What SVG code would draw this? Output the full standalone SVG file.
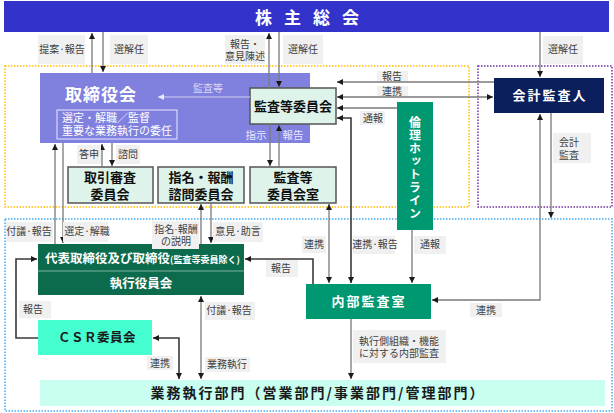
<svg xmlns="http://www.w3.org/2000/svg" width="614" height="413" viewBox="0 0 614 413">
<defs>
<style>
text{font-family:"Noto Sans CJK JP","Noto Sans",sans-serif}
text.ml{font-family:"Liberation Sans","Noto Sans CJK JP",sans-serif}
.lb{fill:#F0F0F0}
.lt{font-size:10px;fill:#404040;text-anchor:middle}
.ln{fill:none;stroke:#7a7a7a;stroke-width:1.3}
.dk{fill:none;stroke:#3a3a3a;stroke-width:1.6}
.mint{fill:#DEF3EA;stroke:#555;stroke-width:1.5}
.bt{font-size:13px;font-weight:bold;fill:#111;text-anchor:middle}
.wt{font-weight:bold;fill:#fff;text-anchor:middle}
</style>
<marker id="a" markerUnits="userSpaceOnUse" markerWidth="7" markerHeight="6" refX="6" refY="3" orient="auto-start-reverse"><path d="M0,0 L6,3 L0,6 z" fill="#1a1a1a"/></marker>
<marker id="w" markerUnits="userSpaceOnUse" markerWidth="7" markerHeight="6" refX="6" refY="3" orient="auto-start-reverse"><path d="M0,0 L6,3 L0,6 z" fill="#E8E8FF"/></marker>
</defs>

<!-- dotted areas -->
<rect x="5" y="66" width="464" height="141" fill="none" stroke="#FFC000" stroke-width="1.5" stroke-dasharray="1.5 1.5"/>
<rect x="478" y="66" width="134" height="141" fill="none" stroke="#7030A0" stroke-width="1.5" stroke-dasharray="1.5 1.5"/>
<rect x="5" y="219" width="607" height="192" fill="none" stroke="#3FA9F5" stroke-width="1.5" stroke-dasharray="1.5 1.5"/>

<g id="shareholders">
<rect x="4" y="1" width="605" height="31" fill="#3333CC"/>
<text x="255" y="24" font-size="17" font-weight="bold" fill="#fff" letter-spacing="12">株主総会</text>
</g>

<g id="board">
<rect x="40" y="73" width="270" height="70" fill="#8080DF"/>
<text x="101" y="101" class="wt" font-size="17" letter-spacing="1">取締役会</text>
<rect x="57" y="110" width="120" height="29" fill="none" stroke="#E8E8FF" stroke-width="1"/>
<text class="ml" font-size="11" fill="#fff"><tspan x="62" y="122">選定・解職／監督</tspan><tspan x="62" y="135">重要な業務執行の委任</tspan></text>
<text x="208" y="92" font-size="10" fill="#D8D8F8" text-anchor="middle">監査等</text>
<text x="256" y="139" font-size="10.5" fill="#E8E8FF" text-anchor="middle">指示</text>
<text x="293" y="139" font-size="10.5" fill="#E8E8FF" text-anchor="middle">報告</text>
</g>

<g id="audit-committee">
<rect x="250" y="88" width="86" height="36" class="mint"/>
<text x="293" y="111" class="bt">監査等委員会</text>
</g>

<g id="accounting-auditor">
<rect x="494" y="78" width="110" height="35" fill="#0A1F5C"/>
<text x="550" y="100" class="wt" font-size="13" letter-spacing="2">会計監査人</text>
</g>

<g id="hotline">
<rect x="397" y="102" width="36" height="128" fill="#009870"/>
<text x="415" y="116" font-size="12" font-weight="bold" fill="#fff" writing-mode="tb" letter-spacing="1">倫理ホットライン</text>
</g>

<g id="transaction-committee">
<rect x="68" y="167" width="85" height="36" class="mint"/>
<text class="bt ml"><tspan x="110" y="182">取引審査</tspan><tspan x="110" y="199">委員会</tspan></text>
</g>

<g id="nomination-committee">
<rect x="158" y="167" width="86" height="36" class="mint"/>
<text class="bt ml"><tspan x="201" y="182">指名・報酬</tspan><tspan x="201" y="199">諮問委員会</tspan></text>
</g>

<g id="audit-office">
<rect x="250" y="167" width="86" height="36" class="mint"/>
<text class="bt ml"><tspan x="293" y="182">監査等</tspan><tspan x="293" y="199">委員会室</tspan></text>
</g>

<g id="executives">
<rect x="38" y="244" width="206" height="51" fill="#0B6B4C"/>
<line x1="38" y1="271" x2="244" y2="271" stroke="#7FB3A0" stroke-width="1"/>
<text x="45" y="263" font-size="12.5" font-weight="bold" fill="#fff">代表取締役及び取締役<tspan font-size="9">(監査等委員除く)</tspan></text>
<text x="141" y="288" class="wt" font-size="12.5">執行役員会</text>
</g>

<g id="internal-audit">
<rect x="306" y="284" width="125" height="35" fill="#009870"/>
<text x="369" y="306" class="wt" font-size="13" letter-spacing="2">内部監査室</text>
</g>

<g id="csr">
<rect x="38" y="320" width="114" height="35" fill="#45FFD0"/>
<text x="97" y="342" font-size="12.5" font-weight="bold" fill="#1a1a1a" text-anchor="middle" letter-spacing="0.5">ＣＳＲ委員会</text>
</g>

<g id="business">
<rect x="40" y="380" width="565" height="26" fill="#C8FFF0"/>
<text x="318" y="398" font-size="14" font-weight="bold" fill="#1a1a1a" text-anchor="middle" letter-spacing="2">業務執行部門（営業部門/事業部門/管理部門）</text>
</g>

<g id="connectors">
<line x1="92" y1="73" x2="92" y2="33" class="ln" marker-end="url(#a)"/>
<line x1="103" y1="32" x2="103" y2="72" class="ln" marker-end="url(#a)"/>
<line x1="269" y1="88" x2="269" y2="33" class="ln" marker-end="url(#a)"/>
<line x1="279" y1="32" x2="279" y2="87" class="ln" marker-end="url(#a)"/>
<line x1="540" y1="32" x2="540" y2="77" class="ln" marker-end="url(#a)"/>
<line x1="494" y1="82" x2="337" y2="82" class="ln" marker-end="url(#a)"/>
<line x1="337" y1="97" x2="493" y2="97" class="ln" marker-start="url(#a)" marker-end="url(#a)"/>
<line x1="397" y1="108" x2="337" y2="108" class="ln" marker-end="url(#a)"/>
<path d="M351,283 V118 H337" class="dk" marker-start="url(#a)" marker-end="url(#a)"/>
<line x1="250" y1="97" x2="158" y2="97" fill="none" stroke="#D0D0F4" stroke-width="1.2" marker-end="url(#w)"/>
<line x1="270" y1="124" x2="270" y2="166" class="ln" marker-end="url(#a)"/>
<line x1="279" y1="167" x2="279" y2="125" class="ln" marker-end="url(#a)"/>
<line x1="102" y1="167" x2="102" y2="144" class="ln" marker-end="url(#a)"/>
<line x1="112" y1="143" x2="112" y2="166" class="ln" marker-end="url(#a)"/>
<line x1="55" y1="244" x2="55" y2="144" class="ln" marker-end="url(#a)"/>
<line x1="63" y1="143" x2="63" y2="243" class="ln" marker-end="url(#a)"/>
<line x1="201" y1="244" x2="201" y2="204" class="ln" marker-end="url(#a)"/>
<line x1="211" y1="203" x2="211" y2="243" class="ln" marker-end="url(#a)"/>
<line x1="329" y1="204" x2="329" y2="283" class="ln" marker-start="url(#a)" marker-end="url(#a)"/>
<line x1="412" y1="230" x2="412" y2="283" class="ln" marker-end="url(#a)"/>
<line x1="551" y1="113" x2="551" y2="218" class="ln" marker-end="url(#a)"/>
<path d="M432,300 H540 V114" class="ln" marker-start="url(#a)" marker-end="url(#a)"/>
<path d="M313,284 V259 H245" class="dk" marker-end="url(#a)"/>
<path d="M38,338 H16 V259 H37" class="dk" marker-end="url(#a)"/>
<path d="M153,338 H179 V379" class="dk" marker-start="url(#a)" marker-end="url(#a)"/>
<line x1="201" y1="296" x2="201" y2="379" class="ln" marker-start="url(#a)" marker-end="url(#a)"/>
<line x1="351" y1="319" x2="351" y2="379" class="ln" marker-end="url(#a)"/>
</g>

<g id="labels">
<rect x="38" y="35" width="47" height="29" class="lb"/><text x="62" y="53" class="lt">提案·報告</text>
<rect x="110" y="35" width="38" height="29" class="lb"/><text x="129" y="53" class="lt">選解任</text>
<rect x="225" y="35" width="40" height="29" class="lb"/><text class="lt ml" font-size="9.5"><tspan x="245" y="48">報告・</tspan><tspan x="245" y="60">意見陳述</tspan></text>
<rect x="283" y="35" width="40" height="29" class="lb"/><text x="303" y="53" class="lt">選解任</text>
<rect x="543" y="36" width="40" height="28" class="lb"/><text x="563" y="53" class="lt">選解任</text>
<rect x="377" y="71" width="31" height="10" class="lb"/><text x="392" y="80" class="lt">報告</text>
<rect x="377" y="86" width="31" height="10" class="lb"/><text x="392" y="95" class="lt">連携</text>
<rect x="360" y="111" width="25" height="14" class="lb"/><text x="373" y="122" class="lt">通報</text>
<rect x="77" y="145" width="24" height="19" class="lb"/><text x="89" y="158" class="lt">答申</text>
<rect x="116" y="145" width="24" height="19" class="lb"/><text x="128" y="158" class="lt">諮問</text>
<rect x="6" y="222" width="47" height="20" class="lb"/><text x="29" y="235" class="lt">付議·報告</text>
<rect x="63" y="222" width="45" height="20" class="lb"/><text x="87" y="235" class="lt">選定·解職</text>
<rect x="152" y="221" width="47" height="28" class="lb"/><text class="lt ml"><tspan x="176" y="233">指名·報酬</tspan><tspan x="176" y="245">の説明</tspan></text>
<rect x="213" y="222" width="50" height="20" class="lb"/><text x="238" y="235" class="lt">意見·助言</text>
<rect x="302" y="236" width="24" height="17" class="lb"/><text x="314" y="248" class="lt">連携</text>
<rect x="353" y="236" width="42" height="18" class="lb"/><text x="375" y="248" class="lt">連携·報告</text>
<rect x="414" y="236" width="32" height="18" class="lb"/><text x="430" y="248" class="lt">通報</text>
<rect x="553" y="133" width="38" height="30" class="lb"/><text class="lt ml"><tspan x="569" y="146">会計</tspan><tspan x="569" y="159">監査</tspan></text>
<rect x="266" y="260" width="32" height="17" class="lb"/><text x="281" y="272" class="lt">報告</text>
<rect x="19" y="301" width="32" height="17" class="lb"/><text x="33" y="313" class="lt">報告</text>
<rect x="205" y="302" width="50" height="18" class="lb"/><text x="229" y="314" class="lt">付議·報告</text>
<rect x="147" y="356" width="26" height="14" class="lb"/><text x="160" y="367" class="lt">連携</text>
<rect x="205" y="357" width="45" height="15" class="lb"/><text x="227" y="368" class="lt">業務執行</text>
<rect x="470" y="303" width="32" height="14" class="lb"/><text x="486" y="314" class="lt">連携</text>
<rect x="353" y="330" width="93" height="33" class="lb"/><text class="ml" font-size="10" fill="#404040"><tspan x="359" y="345">執行側組織・機能</tspan><tspan x="359" y="357">に対する内部監査</tspan></text>
</g>
</svg>
